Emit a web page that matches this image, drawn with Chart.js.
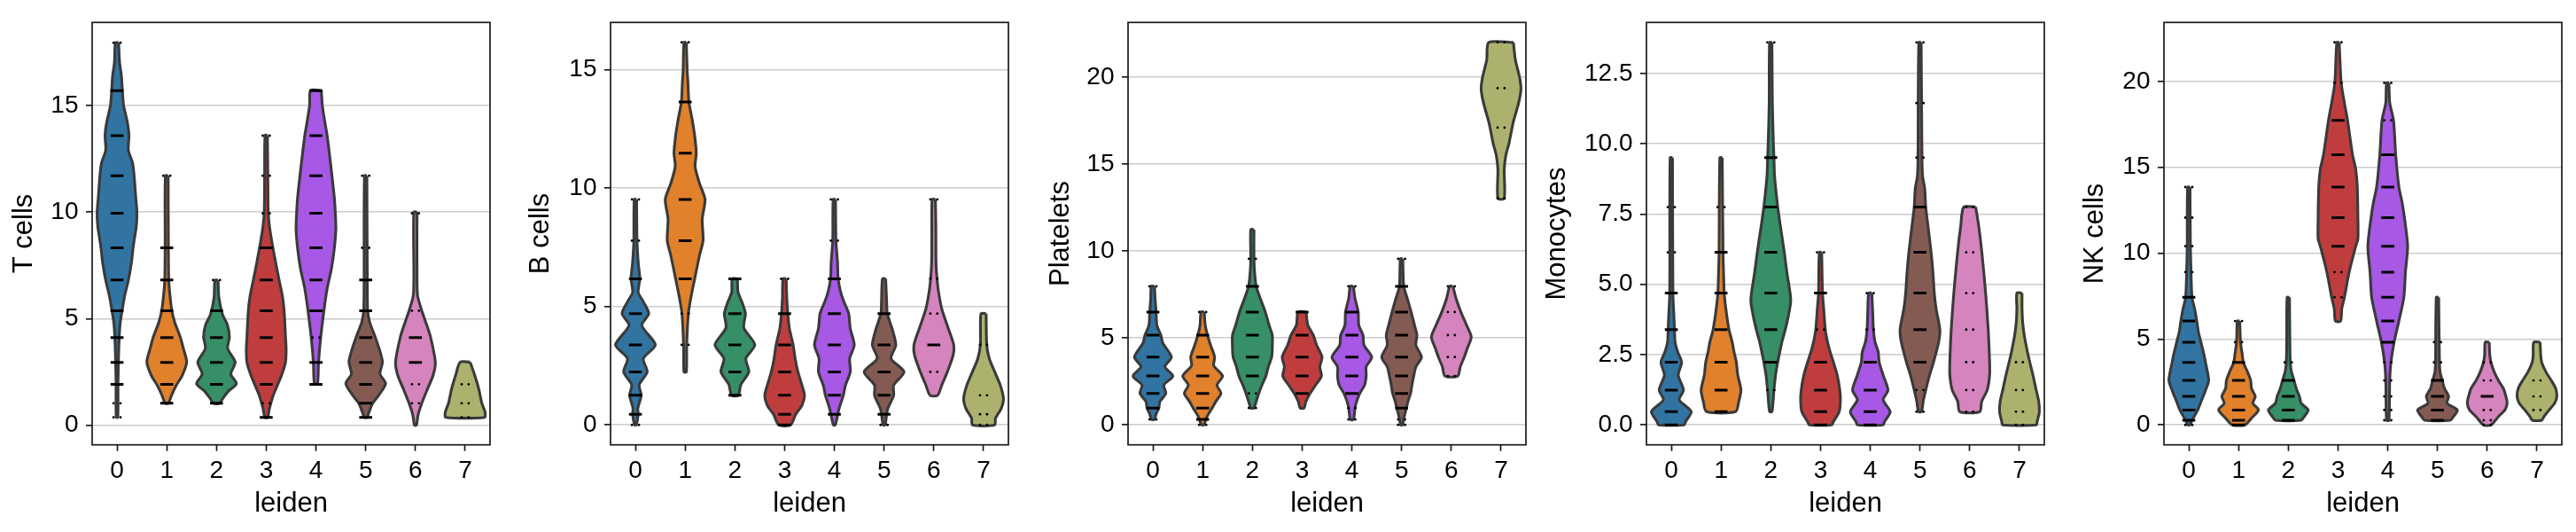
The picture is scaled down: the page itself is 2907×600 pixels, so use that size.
<!DOCTYPE html>
<html>
<head>
<meta charset="utf-8">
<script src="https://cdn.jsdelivr.net/npm/chart.js@4.4.1/dist/chart.umd.min.js"></script>
<style>
  body { margin: 0; background: #fff; width: 2907px; height: 600px; position: relative; overflow: hidden; }
  canvas { position: absolute; top: 0; }
</style>
</head>
<body>
<canvas id="p0"></canvas>
<canvas id="p1"></canvas>
<canvas id="p2"></canvas>
<canvas id="p3"></canvas>
<canvas id="p4"></canvas>
<script>
// ---- data ----
const categories = ['0', '1', '2', '3', '4', '5', '6', '7'];
const panelLabels = ['T cells', 'B cells', 'Platelets', 'Monocytes', 'NK cells'];
const yRanges = [[-0.92, 18.89], [-0.84, 16.99], [-1.15, 23.15], [-0.71, 14.32], [-1.16, 23.44]];
const yTickValues = [[0, 5, 10, 15], [0, 5, 10, 15], [0, 5, 10, 15, 20], [0, 2.5, 5, 7.5, 10, 12.5], [0, 5, 10, 15, 20]];
const yTickLabels = [['0', '5', '10', '15'], ['0', '5', '10', '15'], ['0', '5', '10', '15', '20'],
  ['0.0', '2.5', '5.0', '7.5', '10.0', '12.5'], ['0', '5', '10', '15', '20']];

// violin outlines: [value, relative half width] from top to bottom
const tCellShapes = [
  [[17.94,0.08],[17.0,0.13],[16.4,0.22],[15.7,0.27],[15.0,0.33],[14.2,0.52],[13.6,0.6],[12.9,0.57],[12.3,0.78],[11.7,0.86],[10.7,0.94],[10.0,1.0],[9.35,0.97],[8.6,0.85],[8.26,0.8],[7.6,0.72],[6.8,0.57],[6.1,0.39],[5.4,0.26],[4.8,0.16],[4.1,0.11],[3.0,0.07],[2.0,0.05],[0.37,0.04]],
  [[11.7,0.07],[8.6,0.08],[6.8,0.1],[6.1,0.16],[5.4,0.25],[4.83,0.4],[4.13,0.68],[3.58,0.84],[2.96,1.0],[2.34,0.78],[1.87,0.48],[1.4,0.24],[1.03,0.08]],
  [[6.8,0.08],[6.0,0.12],[5.2,0.3],[4.7,0.55],[4.13,0.65],[3.6,0.56],[2.96,0.94],[2.4,0.72],[1.95,1.0],[1.6,0.6],[1.3,0.35],[1.03,0.15]],
  [[13.6,0.06],[11.7,0.08],[10.0,0.1],[9.35,0.16],[8.57,0.29],[7.6,0.48],[6.8,0.65],[6.07,0.81],[5.37,0.9],[4.13,0.97],[3.58,1.0],[2.96,0.97],[2.34,0.77],[1.87,0.56],[1.4,0.35],[0.78,0.16],[0.37,0.07]],
  [[15.7,0.27],[15.0,0.32],[14.2,0.45],[13.6,0.56],[12.3,0.73],[10.7,0.92],[10.0,0.97],[9.2,1.0],[8.26,0.92],[7.3,0.77],[6.4,0.56],[5.37,0.4],[4.13,0.24],[2.96,0.13],[1.95,0.08]],
  [[11.7,0.06],[7.0,0.08],[5.37,0.1],[4.83,0.2],[4.13,0.48],[3.43,0.73],[2.96,0.84],[2.4,0.72],[1.95,1.0],[1.4,0.65],[1.03,0.35],[0.6,0.16],[0.37,0.07]],
  [[10.0,0.08],[7.0,0.08],[6.07,0.11],[5.37,0.32],[4.83,0.52],[4.13,0.76],[2.96,1.0],[2.34,0.89],[1.71,0.61],[1.03,0.32],[0.47,0.13],[0.0,0.05]],
  [[2.96,0.25],[2.34,0.48],[1.71,0.68],[1.03,0.84],[0.62,1.0],[0.37,0.97]]
];
const bCellShapes = [
  [[9.52,0.06],[7.78,0.08],[6.87,0.14],[6.17,0.22],[5.6,0.14],[5.2,0.4],[4.7,0.67],[4.2,0.32],[3.38,1.0],[2.8,0.4],[2.24,0.59],[1.7,0.19],[1.25,0.29],[0.7,0.12],[0.45,0.14],[0.0,0.04]],
  [[16.15,0.06],[15.0,0.1],[14.44,0.14],[13.63,0.19],[12.9,0.35],[12.2,0.48],[11.47,0.56],[10.9,0.5],[10.2,0.72],[9.52,1.0],[8.7,0.86],[7.78,0.9],[7.15,0.72],[6.17,0.48],[5.33,0.28],[4.7,0.16],[3.38,0.08],[2.24,0.06]],
  [[6.17,0.13],[5.6,0.16],[5.2,0.35],[4.7,0.53],[4.1,0.45],[3.38,1.0],[2.8,0.55],[2.24,0.7],[1.7,0.3],[1.25,0.17]],
  [[6.17,0.08],[5.33,0.11],[4.7,0.16],[4.07,0.24],[3.38,0.43],[2.8,0.53],[2.24,0.67],[1.68,0.87],[1.25,1.0],[0.84,0.88],[0.45,0.56],[0.0,0.3]],
  [[9.52,0.06],[7.78,0.08],[6.87,0.16],[6.17,0.19],[5.6,0.32],[5.2,0.48],[4.7,0.72],[4.07,0.8],[3.38,1.0],[2.8,0.77],[2.24,0.8],[1.68,0.56],[1.25,0.45],[0.7,0.24],[0.0,0.05]],
  [[6.17,0.08],[5.2,0.13],[4.7,0.16],[4.07,0.4],[3.38,0.59],[2.8,0.35],[2.24,1.0],[1.68,0.48],[1.25,0.48],[0.7,0.19],[0.45,0.13],[0.0,0.05]],
  [[9.52,0.08],[8.4,0.1],[6.87,0.11],[6.17,0.16],[5.6,0.24],[4.9,0.4],[4.07,0.73],[3.38,1.0],[2.94,0.97],[2.24,0.68],[1.68,0.4],[1.25,0.19]],
  [[4.7,0.13],[3.38,0.16],[2.8,0.29],[2.24,0.56],[1.68,0.84],[1.12,1.0],[0.7,0.89],[0.28,0.6],[0.0,0.56]]
];
const plateletShapes = [
  [[7.97,0.08],[7.26,0.11],[6.49,0.16],[5.73,0.2],[5.16,0.4],[4.7,0.5],[3.9,0.93],[3.34,0.6],[2.81,1.0],[2.29,0.55],[1.81,0.65],[1.34,0.35],[0.97,0.3],[0.6,0.15],[0.31,0.08]],
  [[6.49,0.08],[5.73,0.13],[5.16,0.24],[4.58,0.4],[3.9,0.6],[3.4,0.56],[2.81,1.0],[2.29,0.72],[1.81,0.92],[1.34,0.66],[0.97,0.48],[0.48,0.22],[0.0,0.06]],
  [[11.23,0.08],[9.55,0.08],[8.8,0.11],[7.97,0.19],[7.26,0.4],[6.49,0.65],[5.73,0.84],[5.16,1.0],[4.39,1.0],[3.9,0.97],[3.34,0.8],[2.81,0.68],[2.29,0.48],[1.81,0.32],[1.34,0.19],[0.97,0.08]],
  [[6.49,0.2],[5.73,0.29],[5.16,0.56],[4.58,0.73],[3.9,1.0],[3.34,0.89],[2.81,0.97],[2.29,0.68],[1.81,0.4],[1.34,0.19],[0.97,0.1]],
  [[7.97,0.08],[7.26,0.16],[6.49,0.32],[5.73,0.35],[5.16,0.56],[4.58,0.61],[3.9,1.0],[3.34,0.72],[2.81,0.72],[2.29,0.64],[1.81,0.4],[1.34,0.24],[0.97,0.16],[0.31,0.08]],
  [[9.55,0.06],[7.97,0.11],[7.26,0.29],[6.49,0.48],[5.73,0.65],[5.16,0.77],[4.58,0.72],[3.9,1.0],[3.34,0.72],[2.81,0.61],[2.29,0.52],[1.81,0.45],[1.34,0.32],[0.97,0.24],[0.31,0.1],[0.0,0.05]],
  [[7.97,0.08],[7.26,0.24],[6.49,0.48],[5.73,0.77],[5.06,1.0],[4.39,0.8],[3.9,0.65],[3.34,0.45],[2.81,0.32]],
  [[22.0,0.62],[21.0,0.72],[20.0,0.93],[19.3,1.0],[18.5,0.88],[17.4,0.61],[16.2,0.4],[15.5,0.24],[14.7,0.16],[13.03,0.16]]
];
const monocyteShapes = [
  [[9.51,0.06],[4.69,0.08],[3.9,0.13],[3.39,0.16],[2.95,0.19],[2.6,0.32],[2.23,0.52],[1.77,0.35],[1.24,0.61],[0.89,0.4],[0.47,1.0],[0.12,0.72],[0.0,0.64]],
  [[9.51,0.06],[6.14,0.1],[5.3,0.13],[4.69,0.16],[4.14,0.24],[3.39,0.4],[2.95,0.56],[2.6,0.65],[2.23,0.77],[1.77,0.84],[1.24,1.0],[0.83,0.89],[0.47,0.73]],
  [[13.61,0.06],[11.45,0.08],[10.04,0.13],[9.51,0.16],[8.86,0.19],[7.75,0.35],[7.09,0.48],[6.14,0.68],[5.43,0.81],[4.69,0.97],[4.37,1.0],[3.9,0.89],[3.39,0.73],[2.95,0.56],[2.23,0.35],[1.77,0.24],[1.24,0.16],[0.47,0.06]],
  [[6.14,0.06],[4.69,0.1],[4.14,0.16],[3.39,0.24],[2.95,0.35],[2.6,0.48],[2.23,0.65],[1.77,0.84],[1.24,0.97],[0.89,1.0],[0.47,0.94],[0.12,0.65],[0.0,0.56]],
  [[4.69,0.08],[3.9,0.13],[3.39,0.16],[2.95,0.24],[2.6,0.4],[2.23,0.45],[1.77,0.65],[1.24,0.89],[0.89,0.65],[0.47,1.0],[0.12,0.72],[0.0,0.64]],
  [[13.61,0.06],[9.51,0.1],[8.86,0.13],[8.39,0.24],[7.75,0.29],[7.09,0.4],[6.14,0.56],[5.43,0.65],[4.69,0.72],[4.14,0.81],[3.39,1.0],[2.95,0.94],[2.23,0.68],[1.77,0.48],[1.24,0.29],[0.83,0.16],[0.47,0.08]],
  [[7.75,0.3],[7.09,0.45],[6.14,0.61],[4.69,0.8],[3.39,0.93],[2.23,1.0],[1.77,1.0],[1.24,0.88],[0.83,0.6],[0.47,0.5]],
  [[4.69,0.13],[4.14,0.13],[3.66,0.16],[3.19,0.24],[2.6,0.4],[2.23,0.52],[1.77,0.68],[1.24,0.84],[0.83,0.97],[0.47,1.0],[0.12,0.89],[0.0,0.84]]
];
const nkCellShapes = [
  [[13.85,0.06],[10.41,0.08],[8.9,0.11],[7.43,0.16],[6.77,0.29],[6.05,0.4],[5.42,0.48],[4.82,0.61],[4.06,0.77],[3.64,0.84],[2.59,1.0],[1.93,0.81],[1.35,0.61],[0.87,0.45],[0.27,0.16],[0.0,0.06]],
  [[6.05,0.06],[4.82,0.1],[4.06,0.19],[3.64,0.24],[3.09,0.45],[2.59,0.61],[2.13,0.65],[1.66,0.84],[1.26,0.72],[0.87,1.0],[0.39,0.65],[0.0,0.32]],
  [[7.43,0.06],[4.82,0.08],[3.64,0.1],[3.09,0.16],[2.59,0.29],[2.13,0.4],[1.66,0.56],[1.26,0.65],[0.87,1.0],[0.48,0.8],[0.27,0.65]],
  [[22.28,0.06],[19.92,0.16],[18.76,0.32],[17.74,0.48],[15.73,0.73],[14.89,0.89],[13.85,0.97],[12.07,1.0],[10.83,1.0],[10.41,0.89],[8.9,0.56],[7.43,0.32],[6.77,0.19],[6.05,0.13]],
  [[19.92,0.06],[18.76,0.1],[17.74,0.29],[15.73,0.4],[13.85,0.56],[12.96,0.72],[12.07,0.84],[10.41,1.0],[8.9,0.89],[7.43,0.81],[6.05,0.56],[4.82,0.32],[3.64,0.16],[2.59,0.1],[0.27,0.06]],
  [[7.43,0.06],[3.64,0.1],[3.09,0.13],[2.59,0.24],[2.13,0.35],[1.66,0.56],[1.26,0.48],[0.87,1.0],[0.48,0.8],[0.27,0.65]],
  [[4.82,0.1],[4.06,0.13],[3.64,0.19],[3.09,0.35],[2.59,0.56],[2.13,0.81],[1.66,0.94],[1.26,1.0],[0.87,0.89],[0.48,0.56],[0.0,0.19]],
  [[4.82,0.16],[4.06,0.19],[3.64,0.24],[3.09,0.45],[2.59,0.72],[2.13,0.94],[1.66,1.0],[1.26,0.89],[0.87,0.61],[0.48,0.35],[0.27,0.24]]
];

// expression levels where cells sit, and per cluster: 0 none, 1 a few cells, 2 many cells
const tCellLevels = [0.37, 1.03, 1.92, 2.94, 4.11, 5.37, 6.81, 8.32, 9.94, 11.7, 13.58, 15.69, 17.94];
const tCellPoints = [
  [1,1,2,2,2,2,2,2,2,2,2,2,1], [0,2,2,2,2,2,2,2,0,1,0,0,0], [0,2,2,2,2,2,1,0,0,0,0,0,0], [2,1,2,2,2,2,2,2,1,1,1,0,0],
  [0,0,2,2,1,2,2,2,2,2,2,2,0], [2,2,2,2,2,2,2,1,0,1,0,0,0], [0,1,1,2,2,1,0,0,1,0,0,0,0], [1,1,1,0,0,0,0,0,0,0,0,0,0]
];
const bCellLevels = [0, 0.45, 1.25, 2.24, 3.38, 4.70, 6.17, 7.78, 9.52, 11.47, 13.63, 16.15];
const bCellPoints = [
  [1,2,2,2,2,2,2,1,1,0,0,0], [0,0,0,0,1,1,2,2,2,2,2,1], [0,0,2,2,2,2,2,0,0,0,0,0], [2,2,2,2,2,2,1,0,0,0,0,0],
  [0,2,2,2,2,2,2,1,1,0,0,0], [1,2,2,2,2,2,0,0,0,0,0,0], [0,0,0,1,2,1,1,0,1,0,0,0], [1,1,1,0,1,0,0,0,0,0,0,0]
];
const plateletLevels = [0, 0.31, 0.97, 1.81, 2.81, 3.9, 5.16, 6.49, 7.97, 9.55, 11.23, 13.03, 17.1, 19.37, 22.0];
const plateletPoints = [
  [0,1,2,2,2,2,2,2,1,0,0,0,0,0,0], [1,2,2,2,2,2,2,1,0,0,0,0,0,0,0], [0,0,1,1,2,2,2,2,2,1,0,0,0,0,0], [0,0,0,2,2,2,2,2,0,0,0,0,0,0,0],
  [0,1,1,2,2,2,2,2,1,0,0,0,0,0,0], [1,1,2,2,2,2,2,2,2,1,0,0,0,0,0], [0,0,0,0,1,1,1,1,1,0,0,0,0,0,0], [0,0,0,0,0,0,0,0,0,0,0,1,1,1,1]
];
const monocyteLevels = [0, 0.47, 1.24, 2.23, 3.39, 4.69, 6.14, 7.75, 9.51, 11.45, 13.61];
const monocytePoints = [
  [2,2,2,2,2,2,1,1,0,0,0], [0,2,2,2,2,2,2,1,0,0,0], [0,0,1,2,2,2,2,2,2,0,1], [2,2,2,2,1,2,1,0,0,0,0],
  [2,2,2,2,1,1,0,0,0,0,0], [0,1,1,2,2,2,2,2,1,1,1], [0,1,1,1,1,1,1,1,0,0,0], [1,1,1,1,0,0,0,0,0,0,0]
];
const nkCellLevels = [0, 0.27, 0.87, 1.66, 2.59, 3.64, 4.82, 6.05, 7.43, 8.9, 10.41, 12.07, 13.85, 15.73, 17.74, 19.92, 22.28];
const nkCellPoints = [
  [1,2,2,2,2,2,2,2,2,1,1,1,1,0,0,0,0], [2,2,2,2,2,2,1,1,0,0,0,0,0,0,0,0,0], [0,2,2,2,2,1,0,0,0,0,0,0,0,0,0,0,0],
  [0,0,0,0,0,0,0,0,1,1,2,2,2,2,2,1,1], [0,1,1,1,1,1,2,2,2,2,2,2,2,2,1,1,0], [0,2,2,2,2,1,1,0,0,0,0,0,0,0,0,0,0],
  [1,1,1,2,1,1,0,0,0,0,0,0,0,0,0,0,0], [0,0,1,1,1,0,0,0,0,0,0,0,0,0,0,0,0]
];

const allShapes = [tCellShapes, bCellShapes, plateletShapes, monocyteShapes, nkCellShapes];
const allLevels = [tCellLevels, bCellLevels, plateletLevels, monocyteLevels, nkCellLevels];
const allPoints = [tCellPoints, bCellPoints, plateletPoints, monocytePoints, nkCellPoints];

// ---- styling / layout ----
const palette = ['#1f77b4', '#ff7f0e', '#279e68', '#d62728', '#aa40fc', '#8c564b', '#e377c2', '#b5bd61'];
const axesLeft = [104, 689, 1273, 1858, 2442];
const yTitleOffset = [77, 78.3, 75.8, 101, 77.3];
const plotWidth = 449, plotTop = 14.5, plotBottom = 501.7, canvasH = 600;
const xTitleCenter = 568;
const marginL = 130, marginR = 20;
const tickSize = 28, titleSize = 31;
const violinHalf = 0.4, dashHalf = 0.13, dotOffset = 0.07;

Chart.defaults.font.family = '"Liberation Sans", Arial, sans-serif';
Chart.defaults.color = '#000';

// seaborn draws violins with saturation 0.75
function desaturate(hex, prop) {
  const r = parseInt(hex.slice(1, 3), 16) / 255, g = parseInt(hex.slice(3, 5), 16) / 255, b = parseInt(hex.slice(5, 7), 16) / 255;
  const max = Math.max(r, g, b), min = Math.min(r, g, b), l = (max + min) / 2, d = max - min;
  let h = 0, s = 0;
  if (d) {
    s = l > 0.5 ? d / (2 - max - min) : d / (max + min);
    if (max === r) h = (g - b) / d + (g < b ? 6 : 0);
    else if (max === g) h = (b - r) / d + 2;
    else h = (r - g) / d + 4;
    h /= 6;
  }
  s *= prop;
  const q = l < 0.5 ? l * (1 + s) : l + s - l * s, p = 2 * l - q;
  const f = t => {
    if (t < 0) t += 1;
    if (t > 1) t -= 1;
    if (t < 1 / 6) return p + (q - p) * 6 * t;
    if (t < 1 / 2) return q;
    if (t < 2 / 3) return p + (q - p) * (2 / 3 - t) * 6;
    return p;
  };
  return `rgb(${Math.round(f(h + 1 / 3) * 255)},${Math.round(f(h) * 255)},${Math.round(f(h - 1 / 3) * 255)})`;
}

function violinOutline(shape, idx) {
  const right = shape.map(([y, w]) => ({ x: idx + w * violinHalf, y }));
  const left = shape.slice().reverse().map(([y, w]) => ({ x: idx - w * violinHalf, y }));
  return right.concat(left, [right[0]]);
}

function stripMarks(levels, codes) {
  const dashes = [], dots = [];
  codes.forEach((row, i) => {
    row.forEach((c, j) => {
      const y = levels[j];
      if (c === 2) dashes.push({ x: i - dashHalf, y }, { x: i + dashHalf, y }, { x: NaN, y: null });
      else if (c === 1) dots.push({ x: i - dotOffset, y }, { x: i + dotOffset, y });
    });
  });
  return { dashes, dots };
}

// top and right spines
const framePlugin = {
  id: 'frame',
  afterDraw(chart) {
    const { ctx, chartArea: a } = chart;
    ctx.save();
    ctx.strokeStyle = '#1a1a1a';
    ctx.lineWidth = 1.7;
    ctx.strokeRect(a.left, a.top, a.right - a.left, a.bottom - a.top);
    ctx.restore();
  }
};

function buildPanel(p) {
  const canvas = document.getElementById('p' + p);
  canvas.width = marginL + plotWidth + marginR;
  canvas.height = canvasH;
  canvas.style.left = (axesLeft[p] - marginL) + 'px';

  // higher order is drawn first, so violins sit under the cell marks
  const datasets = allShapes[p].map((shape, i) => ({
    data: violinOutline(shape, i),
    order: 2,
    showLine: true,
    fill: 'shape',
    backgroundColor: desaturate(palette[i], 0.75),
    borderColor: '#3a3a3a',
    borderWidth: 3.1,
    borderJoinStyle: 'round',
    tension: 0.25,
    pointRadius: 0
  }));
  const marks = stripMarks(allLevels[p], allPoints[p]);
  datasets.push({
    data: marks.dashes, order: 1, showLine: true, spanGaps: false, fill: false,
    borderColor: '#000', borderWidth: 3, pointRadius: 0
  });
  datasets.push({
    data: marks.dots, order: 0, showLine: false,
    pointRadius: 1.4, pointBorderWidth: 0, pointBackgroundColor: '#000'
  });

  const yTitleCenter = marginL - yTitleOffset[p];
  new Chart(canvas, {
    type: 'scatter',
    data: { datasets },
    options: {
      responsive: false,
      animation: false,
      events: [],
      layout: { padding: { left: 0, top: plotTop, right: marginR, bottom: 0 } },
      plugins: { legend: { display: false }, tooltip: { enabled: false } },
      scales: {
        x: {
          type: 'linear',
          min: -0.5,
          max: categories.length - 0.5,
          afterBuildTicks: s => { s.ticks = categories.map((c, i) => ({ value: i })); },
          afterFit: s => { s.height = canvasH - plotBottom; },
          ticks: { callback: v => categories[v], font: { size: tickSize }, padding: 5.5, maxRotation: 0, autoSkip: false },
          grid: { drawOnChartArea: false, tickLength: 7, tickWidth: 1.7, tickColor: '#1a1a1a' },
          border: { display: false },
          title: { display: true, text: 'leiden', font: { size: titleSize }, padding: { top: 0, bottom: canvasH - xTitleCenter - titleSize * 0.6 } }
        },
        y: {
          min: yRanges[p][0],
          max: yRanges[p][1],
          afterBuildTicks: s => { s.ticks = yTickValues[p].map(v => ({ value: v })); },
          afterFit: s => { s.width = marginL; },
          ticks: { callback: v => yTickLabels[p][yTickValues[p].indexOf(v)], font: { size: tickSize }, padding: 8.5 },
          grid: { color: '#cccccc', lineWidth: 1.6, tickLength: 7, tickWidth: 1.7, tickColor: '#1a1a1a' },
          border: { display: false },
          title: { display: true, text: panelLabels[p], font: { size: titleSize }, padding: { top: yTitleCenter - titleSize * 0.6, bottom: 0 } }
        }
      }
    },
    plugins: [framePlugin]
  });
}

for (let p = 0; p < panelLabels.length; p++) buildPanel(p);
</script>
</body>
</html>
